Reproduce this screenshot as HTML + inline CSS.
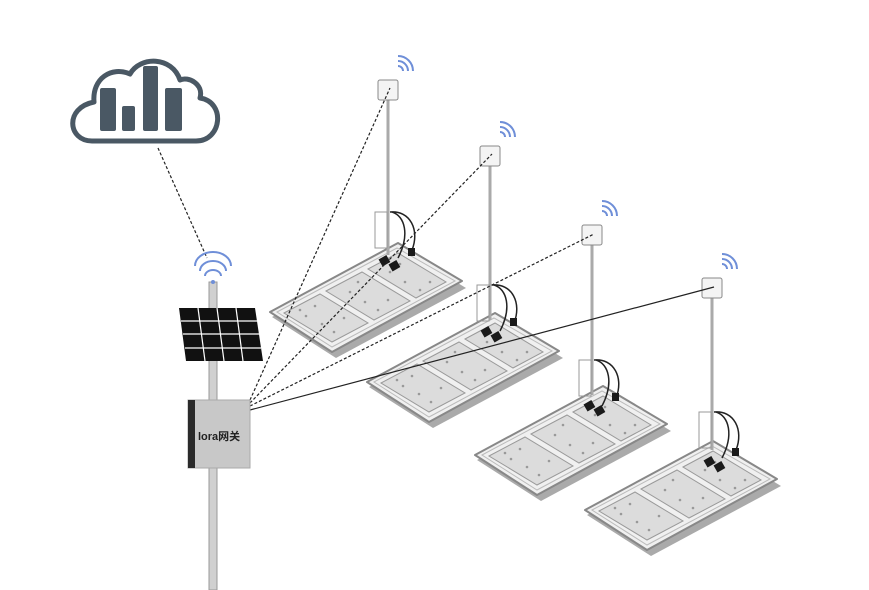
<!DOCTYPE html>
<html><head><meta charset="utf-8"><style>
html,body{margin:0;padding:0;background:#fff;width:869px;height:590px;overflow:hidden}
svg{display:block}
</style></head><body>
<svg width="869" height="590" viewBox="0 0 869 590" xmlns="http://www.w3.org/2000/svg">
<defs>
<g id="tray">
  <polygon points="2,5 130,-64 196,-24 66,46" fill="#aaa"/>
  <polygon points="0,0 128,-69 192,-31 62,40" fill="#f0f0f0" stroke="#888" stroke-width="2" stroke-linejoin="round"/>
  <polygon points="7,0 127,-64 185,-31 62,35" fill="none" stroke="#bbb" stroke-width="1"/>
  <g fill="#dcdcdc" stroke="#9a9a9a" stroke-width="1">
    <polygon points="14,1 50,-18 98,11 62,30"/>
    <polygon points="56,-21 92,-40 140,-11 104,8"/>
    <polygon points="98,-43 128,-59 176,-30 146,-14"/>
  </g>
  <g fill="#999">
    <circle cx="36" cy="4" r="1.3"/><circle cx="52" cy="12" r="1.3"/><circle cx="64" cy="20" r="1.3"/><circle cx="45" cy="-6" r="1.3"/><circle cx="74" cy="6" r="1.3"/><circle cx="30" cy="-2" r="1.3"/>
    <circle cx="80" cy="-20" r="1.3"/><circle cx="95" cy="-10" r="1.3"/><circle cx="108" cy="-2" r="1.3"/><circle cx="88" cy="-30" r="1.3"/><circle cx="118" cy="-12" r="1.3"/>
    <circle cx="120" cy="-40" r="1.3"/><circle cx="135" cy="-30" r="1.3"/><circle cx="150" cy="-22" r="1.3"/><circle cx="160" cy="-30" r="1.3"/><circle cx="130" cy="-48" r="1.3"/>
  </g>
</g>
<g id="wifi" fill="none" stroke="#6f8fd8" stroke-width="2">
  <path d="M0,0 a5,5 0 0 1 5,5"/>
  <path d="M0,-5 a10,10 0 0 1 10,10"/>
  <path d="M0,-10 a15,15 0 0 1 15,15"/>
</g>
</defs>

<path d="M92,141 C68,141 64,108 94,102 C92,78 112,66 130,74 C140,56 172,56 180,80 C188,76 204,84 200,98 C226,102 222,141 196,141 Z" fill="#fff" stroke="#4a5864" stroke-width="5" stroke-linejoin="round"/>
<g fill="#4a5864">
  <rect x="100" y="88" width="16" height="43" rx="2"/>
  <rect x="122" y="106" width="13" height="25" rx="2"/>
  <rect x="143" y="66" width="15" height="65" rx="2"/>
  <rect x="165" y="88" width="17" height="43" rx="2"/>
</g>
<line x1="158" y1="148" x2="207" y2="258" stroke="#222" stroke-width="1.2" stroke-dasharray="3,2"/>

<use href="#tray" x="270" y="312"/>
<use href="#tray" x="367" y="382"/>
<use href="#tray" x="475" y="455"/>
<use href="#tray" x="585" y="510"/>

<g stroke="#aaa" fill="none" stroke-width="3">
  <line x1="388" y1="98" x2="388" y2="255"/>
  <line x1="490" y1="165" x2="490" y2="320"/>
  <line x1="592" y1="243" x2="592" y2="395"/>
  <line x1="712" y1="298" x2="712" y2="450"/>
</g>
<g stroke="#999" fill="none" stroke-width="1">
  <rect x="375" y="212" width="12" height="36"/>
  <rect x="477" y="285" width="12" height="36"/>
  <rect x="579" y="360" width="12" height="36"/>
  <rect x="699" y="412" width="12" height="36"/>
</g>
<g fill="none" stroke="#222" stroke-width="1.5">
  <path d="M390,212 C410,210 420,230 412,250 M392,212 C405,216 410,235 398,258"/>
  <path d="M492,285 C512,283 522,303 514,323 M494,285 C507,289 512,308 500,331"/>
  <path d="M594,360 C614,358 624,378 616,398 M596,360 C609,364 614,383 602,406"/>
  <path d="M714,412 C734,410 744,430 736,450 M716,412 C729,416 734,435 722,458"/>
</g>
<g fill="#1a1a1a">
  <rect x="380" y="257" width="9" height="8" transform="rotate(-30 384 261)"/><rect x="390" y="262" width="9" height="8" transform="rotate(-30 394 266)"/><rect x="408" y="248" width="7" height="8"/>
  <rect x="482" y="328" width="9" height="8" transform="rotate(-30 486 332)"/><rect x="492" y="333" width="9" height="8" transform="rotate(-30 496 337)"/><rect x="510" y="318" width="7" height="8"/>
  <rect x="585" y="402" width="9" height="8" transform="rotate(-30 589 406)"/><rect x="595" y="407" width="9" height="8" transform="rotate(-30 599 411)"/><rect x="612" y="393" width="7" height="8"/>
  <rect x="705" y="458" width="9" height="8" transform="rotate(-30 709 462)"/><rect x="715" y="463" width="9" height="8" transform="rotate(-30 719 467)"/><rect x="732" y="448" width="7" height="8"/>
</g>
<g fill="#f4f4f4" stroke="#888" stroke-width="1">
  <rect x="378" y="80" width="20" height="20" rx="2"/>
  <rect x="480" y="146" width="20" height="20" rx="2"/>
  <rect x="582" y="225" width="20" height="20" rx="2"/>
  <rect x="702" y="278" width="20" height="20" rx="2"/>
</g>
<use href="#wifi" x="398" y="66"/>
<use href="#wifi" x="500" y="132"/>
<use href="#wifi" x="602" y="211"/>
<use href="#wifi" x="722" y="264"/>

<g stroke="#222" stroke-width="1.2" fill="none">
  <line x1="250" y1="400" x2="390" y2="88" stroke-dasharray="3,2"/>
  <line x1="250" y1="403" x2="492" y2="154" stroke-dasharray="3,2"/>
  <line x1="250" y1="406" x2="594" y2="234" stroke-dasharray="3,2"/>
  <line x1="250" y1="410" x2="714" y2="287"/>
</g>

<rect x="209" y="282" width="8" height="308" fill="#d0d0d0" stroke="#999" stroke-width="1"/>
<g fill="none" stroke="#6f8fd8" stroke-width="2">
  <path d="M205,276 a8,6 0 0 1 16,0"/>
  <path d="M200,271 a13,10 0 0 1 26,0"/>
  <path d="M195,266 a18,14 0 0 1 36,0"/>
</g>
<circle cx="213" cy="282" r="2" fill="#6f8fd8"/>
<polygon points="179,308 255,308 263,361 186,361" fill="#111"/>
<g stroke="#fff" stroke-width="1.2">
  <line x1="181" y1="321" x2="257" y2="321"/><line x1="183" y1="334" x2="259" y2="334"/><line x1="185" y1="348" x2="261" y2="348"/>
  <line x1="198" y1="308" x2="205" y2="361"/><line x1="217" y1="308" x2="224" y2="361"/><line x1="236" y1="308" x2="243" y2="361"/>
</g>
<rect x="188" y="400" width="62" height="68" fill="#c8c8c8" stroke="#aaa" stroke-width="1"/>
<rect x="188" y="400" width="7" height="68" fill="#2a2a2a"/>
<text x="198" y="440" font-family="Liberation Sans, 'Noto Sans CJK SC', sans-serif" font-size="11" font-weight="bold" fill="#222">lora网关</text>
</svg>
</body></html>
